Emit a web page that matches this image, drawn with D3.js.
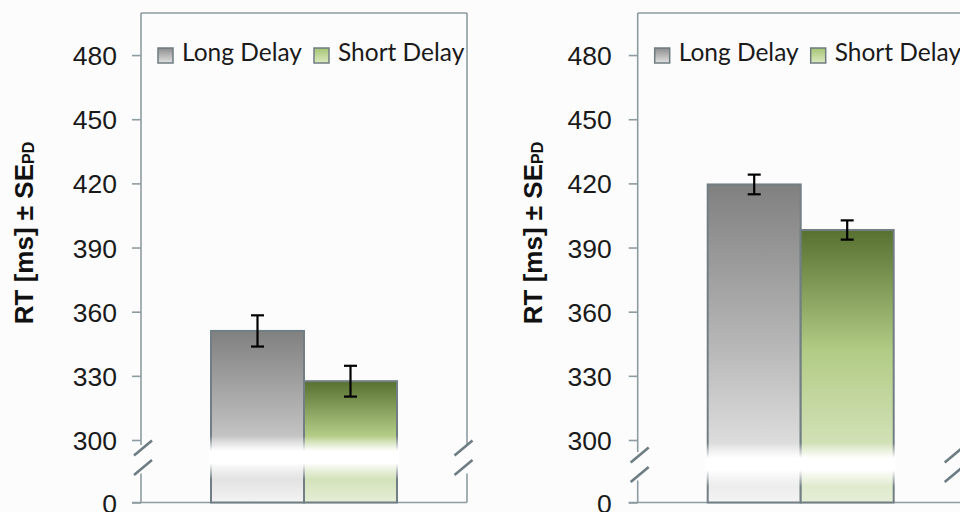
<!DOCTYPE html>
<html>
<head>
<meta charset="utf-8">
<script src="https://cdn.jsdelivr.net/npm/d3@7"></script>
<style>
  body { margin: 0; background: #fcfcfd; }
  svg { display: block; }
</style>
</head>
<body>
<svg id="chart" width="960" height="512"></svg>
<script>
// Reaction times per delay condition (ms), with standard errors
const conditions = ["Long Delay", "Short Delay"];
const meansLeft = [351, 327.5];
const seLeft = [7.3, 7.2];
const meansRight = [419.5, 398.2];
const seRight = [4.6, 4.5];
const tickValues = [0, 300, 330, 360, 390, 420, 450, 480];
const axisTitle = "RT [ms] \u00b1 SE";
const axisTitleSub = "PD";

// Panel layout
const panels = [
  { means: meansLeft, se: seLeft, left: 141, titleX: 33, labelGap: 24, breakShift: 0, rightMarkShift: -3.5 },
  { means: meansRight, se: seRight, left: 637.7, titleX: 542, labelGap: 26, breakShift: 7, rightMarkShift: -10 }
];
const plotW = 326, plotTop = 13, plotBottom = 502.5;
const frameColor = "#8e9ba1";

const svg = d3.select("#chart");
svg.append("rect").attr("width", 960).attr("height", 512).attr("fill", "#fcfcfd");

// Broken value axis: 0 sits just below the break, 300..500 is linear above it
const y = d3.scaleLinear().domain([0, 300, 500]).range([plotBottom, 440, 12.3]);
const x = d3.scaleBand().domain(conditions).range([70, 256]).paddingInner(0).paddingOuter(0);

const defs = svg.append("defs");
function vGrad(id, stops) {
  const g = defs.append("linearGradient").attr("id", id)
    .attr("x1", 0).attr("y1", 0).attr("x2", 0).attr("y2", 1);
  stops.forEach(([o, c, op]) => g.append("stop").attr("offset", o).attr("stop-color", c)
    .attr("stop-opacity", op == null ? 1 : op));
}
vGrad("bar0", [[0, "#808080"], [0.5, "#b6b6b6"], [1, "#f3f3f3"]]);
vGrad("bar1", [[0, "#587030"], [0.45, "#b3cc86"], [1, "#e5eed6"]]);
vGrad("leg0", [[0, "#8c8c8c"], [1, "#e2e2e2"]]);
vGrad("leg1", [[0, "#a5c474"], [1, "#dbeabf"]]);
vGrad("fade", [[0, "#ffffff", 0], [0.35, "#ffffff", 1], [0.62, "#ffffff", 1], [1, "#ffffff", 0]]);

panels.forEach(p => {
  const g = svg.append("g");
  const L = p.left, R = p.left + plotW;
  const b1 = 448 + p.breakShift, b2 = 467.5 + p.breakShift;
  const gapTop = b1 - 3, gapBottom = b2 + 6;

  // plot frame with gaps at the axis break
  const frame = [
    [L, plotTop, R, plotTop],
    [L, plotTop, L, gapTop], [L, gapBottom, L, plotBottom],
    [R, plotTop, R, gapTop], [R, gapBottom, R, plotBottom],
    [L - 9, plotBottom, R, plotBottom]
  ];
  g.selectAll("line.frame").data(frame).join("line").attr("class", "frame")
    .attr("x1", d => d[0]).attr("y1", d => d[1]).attr("x2", d => d[2]).attr("y2", d => d[3])
    .attr("stroke", frameColor).attr("stroke-width", 1.6);

  // bars
  const bars = conditions.map((c, i) => ({ c, i, m: p.means[i], se: p.se[i] }));
  g.selectAll("rect.bar").data(bars).join("rect").attr("class", "bar")
    .attr("x", d => L + x(d.c)).attr("y", d => y(d.m))
    .attr("width", x.bandwidth()).attr("height", d => y(0) - y(d.m))
    .attr("fill", d => `url(#bar${d.i})`)
    .attr("stroke", "#717e83").attr("stroke-width", 2);

  // white band across the bars where the axis is broken
  const bandC = (b1 + b2) / 2;
  g.append("rect")
    .attr("x", L + x.range()[0] - 2).attr("width", x.range()[1] - x.range()[0] + 4)
    .attr("y", bandC - 22).attr("height", 44)
    .attr("fill", "url(#fade)");

  // error bars
  const eb = g.selectAll("g.err").data(bars).join("g").attr("class", "err")
    .attr("transform", d => `translate(${L + x(d.c) + x.bandwidth() / 2},0)`);
  eb.append("line").attr("y1", d => y(d.m + d.se)).attr("y2", d => y(d.m - d.se))
    .attr("stroke", "#000").attr("stroke-width", 2.2);
  eb.selectAll("line.cap").data(d => [d.m + d.se, d.m - d.se]).join("line").attr("class", "cap")
    .attr("x1", -6.5).attr("x2", 6.5).attr("y1", v => y(v)).attr("y2", v => y(v))
    .attr("stroke", "#000").attr("stroke-width", 2.2);

  // value axis
  const ax = g.append("g").attr("transform", `translate(${L},0)`)
    .call(d3.axisLeft(y).tickValues(tickValues).tickSize(9).tickPadding(p.labelGap - 9));
  ax.select(".domain").remove();
  ax.selectAll(".tick line").attr("stroke", frameColor).attr("stroke-width", 1.6);
  ax.selectAll(".tick text")
    .attr("font-family", "'Liberation Sans', Arial, sans-serif")
    .attr("font-size", 26.5).attr("fill", "#1a1a1a").attr("dy", "0.36em");

  // break marks on both sides of the frame
  const marks = [];
  [L + 2, R + p.rightMarkShift].forEach(mx => [b1, b2].forEach(my => marks.push([mx, my])));
  g.selectAll("line.brk").data(marks).join("line").attr("class", "brk")
    .attr("x1", d => d[0] - 9).attr("y1", d => d[1] + 7.5)
    .attr("x2", d => d[0] + 9).attr("y2", d => d[1] - 7.5)
    .attr("stroke", "#6d7d83").attr("stroke-width", 2.6);

  // axis title
  const t = g.append("text")
    .attr("transform", `translate(${p.titleX},233) rotate(-90)`)
    .attr("text-anchor", "middle")
    .attr("font-family", "'Liberation Sans', Arial, sans-serif")
    .attr("font-weight", "bold").attr("font-size", 26).attr("fill", "#111");
  t.append("tspan").text(axisTitle);
  t.append("tspan").attr("font-size", 16).attr("dy", 1).text(axisTitleSub);

  // legend
  const leg = g.selectAll("g.leg").data(conditions).join("g").attr("class", "leg")
    .attr("transform", (d, i) => `translate(${L + 17 + i * 156},0)`);
  leg.append("rect").attr("x", 0).attr("y", 48).attr("width", 15).attr("height", 15)
    .attr("fill", (d, i) => `url(#leg${i})`).attr("stroke", "#6f7b80").attr("stroke-width", 1.5);
  leg.append("text").attr("x", 24).attr("y", 61)
    .attr("font-family", "Lato, 'Open Sans', sans-serif").attr("font-size", 24.5)
    .attr("fill", "#1a1a1a").text(d => d);
});
</script>
</body>
</html>
